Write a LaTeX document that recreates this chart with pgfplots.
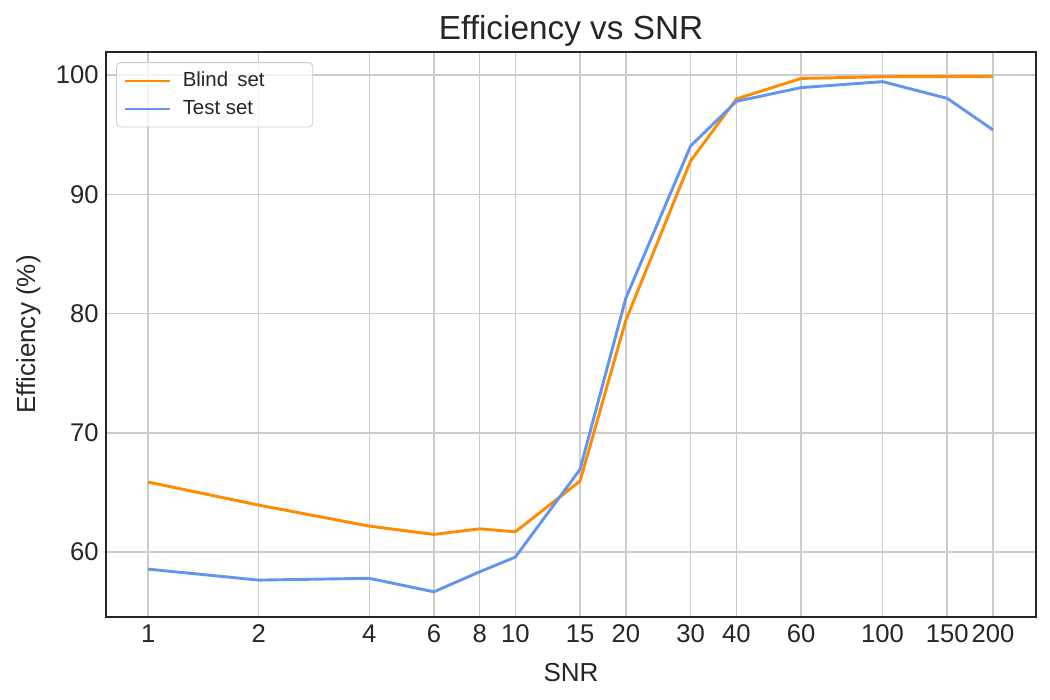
\documentclass[border=0pt]{standalone}
\usepackage{pgfplots}
\pgfplotsset{compat=1.18}
\usepackage{fontspec}
\setmainfont{Liberation Sans}
\definecolor{cblind}{HTML}{FF8C00}
\definecolor{ctest}{HTML}{6495ED}
\definecolor{cgrid}{HTML}{CCCCCC}
\definecolor{ctext}{HTML}{262626}
\begin{document}
\begin{tikzpicture}
\useasboundingbox (-50.9pt,-39.8pt) rectangle (453.1pt,296.2pt);
\begin{axis}[
  at={(0,0)}, anchor=south west,
  scale only axis, width=446.4pt, height=271.2pt,
  xmode=log, log basis x=10,
  xmin=0.768, xmax=261.8, ymin=54.55, ymax=101.93,
  xtick={1,2,4,6,8,10,15,20,30,40,60,100,150,200},
  xticklabels={1,2,4,6,8,10,15,20,30,40,60,100,150,200},
  minor xtick={}, minor ytick={},
  ytick={60,70,80,90,100},
  /pgf/number format/assume math mode=true,
  tick label style={font=\fontsize{12.3}{14}\selectfont, text=ctext},
  major tick length=0pt,
  grid=major,
  major grid style={color=cgrid, line width=0.7pt},
  axis line style={color=ctext, line width=0.9pt},
  title={Efficiency vs SNR},
  title style={font=\fontsize{16}{19}\selectfont, text=ctext, yshift=-7pt},
  xlabel={SNR}, ylabel={Efficiency (\%)},
  label style={font=\fontsize{12.5}{15}\selectfont, text=ctext},
  xlabel style={yshift=-3pt},
  ylabel style={yshift=0.5pt},
  legend style={at={(0.0108,0.982)}, anchor=north west, draw=cgrid, rounded corners=2pt,
    fill=white, fill opacity=0.8, text opacity=1, font=\fontsize{9.8}{12}\selectfont,
    inner xsep=3.4pt, inner ysep=2.5pt, row sep=1pt, text=ctext},
  legend cell align=left,
  legend image code/.code={\draw[#1, line width=1.4pt] (0pt,0pt) -- (21.6pt,0pt); \path (25pt,0pt);},
]
\addplot[cblind, line width=1.4pt] coordinates {
(1,65.87) (2,63.94) (4,62.18) (6,61.48) (8,61.95) (10,61.70) (15,65.95) (20,79.45)
(30,92.8) (40,98.0) (60,99.72) (100,99.86) (150,99.88) (200,99.9)};
\addlegendentry{\makebox[57pt][l]{Blind\hspace{0.45em}set}}
\addplot[ctest, line width=1.4pt] coordinates {
(1,58.57) (2,57.65) (4,57.8) (6,56.67) (8,58.35) (10,59.58) (15,66.93) (20,81.3)
(30,94.05) (40,97.8) (60,98.95) (100,99.45) (150,98.05) (200,95.4)};
\addlegendentry{\makebox[57pt][l]{Test set}}
\end{axis}
\end{tikzpicture}
\end{document}
